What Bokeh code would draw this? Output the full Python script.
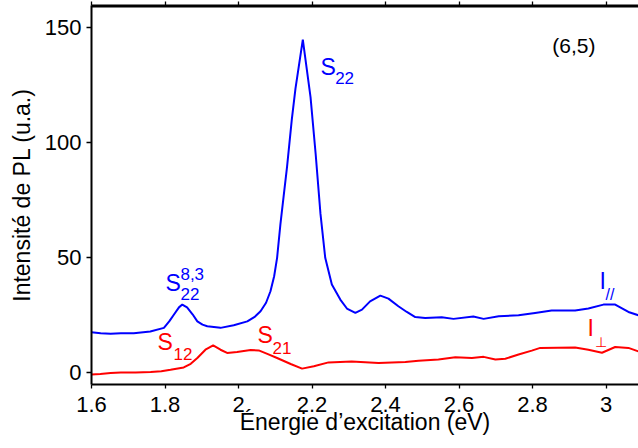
from bokeh.plotting import figure
from bokeh.models import Range1d, LinearAxis, FixedTicker
from bokeh.core.properties import value
from bokeh.embed import file_html
from bokeh.resources import INLINE

# ---- data ----
energy_par = [1.600, 1.625, 1.652, 1.680, 1.715, 1.760, 1.797, 1.812, 1.824, 1.838, 1.847,
              1.860, 1.875, 1.888, 1.902, 1.915, 1.951, 1.987, 2.024, 2.045, 2.060, 2.075,
              2.087, 2.097, 2.105, 2.114, 2.123, 2.132, 2.145, 2.155, 2.175, 2.196, 2.210,
              2.223, 2.236, 2.254, 2.277, 2.295, 2.318, 2.336, 2.358, 2.386, 2.408, 2.435,
              2.458, 2.481, 2.508, 2.553, 2.585, 2.639, 2.667, 2.708, 2.762, 2.807, 2.852,
              2.916, 2.952, 2.993, 3.025, 3.061, 3.088]
intensity_par = [17.7, 17.3, 17.0, 17.3, 17.3, 18.0, 19.6, 22.5, 25.3, 28.5, 29.7,
                 28.5, 25.5, 22.4, 21.0, 20.3, 19.6, 20.7, 22.4, 24.5, 26.8, 30.5,
                 35.5, 42.0, 50.0, 64.5, 77.0, 89.4, 110.0, 123.5, 144.8, 119.8, 95.0,
                 69.2, 50.0, 38.4, 31.9, 28.0, 26.1, 27.5, 31.1, 33.6, 32.3, 29.0,
                 26.5, 24.3, 23.9, 24.2, 23.5, 24.5, 23.5, 24.6, 25.1, 26.1, 27.1,
                 27.1, 28.0, 29.7, 29.7, 26.5, 25.1]

energy_perp = [1.600, 1.624, 1.652, 1.680, 1.720, 1.761, 1.790, 1.815, 1.851, 1.870, 1.888,
               1.910, 1.931, 1.951, 1.969, 1.996, 2.033, 2.055, 2.080, 2.105, 2.142, 2.173,
               2.205, 2.245, 2.308, 2.381, 2.454, 2.490, 2.544, 2.590, 2.635, 2.667, 2.699,
               2.726, 2.762, 2.798, 2.821, 2.916, 2.952, 2.989, 3.025, 3.061, 3.088]
intensity_perp = [-0.7, -0.4, 0.0, 0.2, 0.2, 0.4, 0.8, 1.4, 2.4, 4.0, 6.5,
                  10.1, 12.0, 10.1, 8.7, 9.1, 10.0, 9.8, 8.2, 6.5, 3.9, 1.9,
                  2.9, 4.6, 5.0, 4.3, 4.8, 5.3, 5.9, 6.8, 6.5, 7.0, 5.9,
                  6.2, 8.0, 9.7, 10.9, 11.1, 10.1, 8.8, 11.3, 10.9, 9.4]

x_ticks = [1.6, 1.8, 2.0, 2.2, 2.4, 2.6, 2.8, 3.0]
x_tick_labels = ["1.6", "1.8", "2", "2.2", "2.4", "2.6", "2.8", "3"]
y_ticks = [0, 50, 100, 150]
y_tick_labels = ["0", "50", "100", "150"]

# annotation labels
main_lbl_x = [2.2231, 1.8014]
main_lbl_y = [133.1, 39.2]
main_lbl_txt = ["S", "S"]
sub_lbl_x = [2.263, 1.842, 1.842]
sub_lbl_y = [127.9, 34.1, 42.8]
sub_lbl_txt = ["22", "22", "8,3"]

red_main_x = [1.7796, 2.0517]
red_main_y = [13.4, 16.6]
red_main_txt = ["S", "S"]
red_sub_x = [1.8231, 2.0925]
red_sub_y = [8.2, 11.0]
red_sub_txt = ["12", "21"]

FONT = "Liberation Sans"
BLUE = "#0000ff"
RED = "#ff0000"
X_MIN, X_MAX = 1.6, 3.0884
Y_MIN, Y_MAX = -5, 159.6

p = figure(width=638, height=448, x_range=Range1d(X_MIN, X_MAX), y_range=Range1d(Y_MIN, Y_MAX),
           output_backend="svg", toolbar_location=None)
p.min_border_left = 91
p.min_border_right = 0
p.min_border_top = 5
p.min_border_bottom = 64
p.outline_line_color = None
p.xgrid.visible = False
p.ygrid.visible = False

xa = p.xaxis[0]
xa.ticker = FixedTicker(ticks=x_ticks)
xa.major_label_overrides = dict(zip(x_ticks, x_tick_labels))
xa.axis_label = "Énergie d’excitation (eV)"
ya = p.yaxis[0]
ya.ticker = FixedTicker(ticks=y_ticks)
ya.major_label_overrides = dict(zip([float(v) for v in y_ticks], y_tick_labels))
ya.axis_label = "Intensité de PL (u.a.)"

for ax in (xa, ya):
    ax.major_label_text_font = FONT
    ax.major_label_text_font_size = "22px"
    ax.major_label_text_color = "black"
    ax.axis_label_text_font = FONT
    ax.axis_label_text_font_size = "23px"
    ax.axis_label_text_font_style = "normal"
    ax.axis_label_text_color = "black"
    ax.axis_line_width = 2
    ax.axis_line_color = "black"
    ax.major_tick_line_width = 1.3
    ax.major_tick_line_color = "black"
    ax.major_tick_in = 0
    ax.minor_tick_line_color = None

xa.major_tick_out = 4
xa.major_label_standoff = 8
xa.axis_label_standoff = -6
ya.major_tick_out = 5
ya.major_label_standoff = 5
ya.axis_label_standoff = 7

# top frame line (glyph level)
p.line([X_MIN, X_MAX], [Y_MAX, Y_MAX], line_color="black", line_width=4)

top = LinearAxis(ticker=FixedTicker(ticks=x_ticks), major_label_text_font_size="1px",
                 major_label_text_alpha=0,
                 major_tick_out=4, major_tick_in=0, major_label_standoff=0,
                 axis_line_width=2, axis_line_color="black",
                 major_tick_line_width=1.3, major_tick_line_color="black",
                 minor_tick_line_color=None)
p.add_layout(top, "above")

p.line(energy_par, intensity_par, line_color=BLUE, line_width=2)
p.line(energy_perp, intensity_perp, line_color=RED, line_width=2)

tkw = dict(text_font=value(FONT), text_baseline="alphabetic", text_align="left")
p.text(main_lbl_x, main_lbl_y, text=main_lbl_txt, text_color=BLUE, text_font_size="23px", **tkw)
p.text(sub_lbl_x, sub_lbl_y, text=sub_lbl_txt, text_color=BLUE, text_font_size="17px", **tkw)
p.text(red_main_x, red_main_y, text=red_main_txt, text_color=RED, text_font_size="23px", **tkw)
p.text(red_sub_x, red_sub_y, text=red_sub_txt, text_color=RED, text_font_size="17px", **tkw)
p.text([2.9823], [40.1], text=["I"], text_color=BLUE, text_font_size="23px", **tkw)
p.text([2.9986], [34.1], text=["//"], text_color=BLUE, text_font_size="16px", **tkw)
p.text([2.9497], [19.7], text=["I"], text_color=RED, text_font_size="23px", **tkw)
p.text([2.9687], [13.6], text=["⊥"], text_color=RED, text_font_size="14px", **tkw)
p.text([2.8536], [142.4], text=["(6,5)"], text_color="black", text_font_size="21px", **tkw)

open("out.html", "w").write(file_html(p, INLINE))
